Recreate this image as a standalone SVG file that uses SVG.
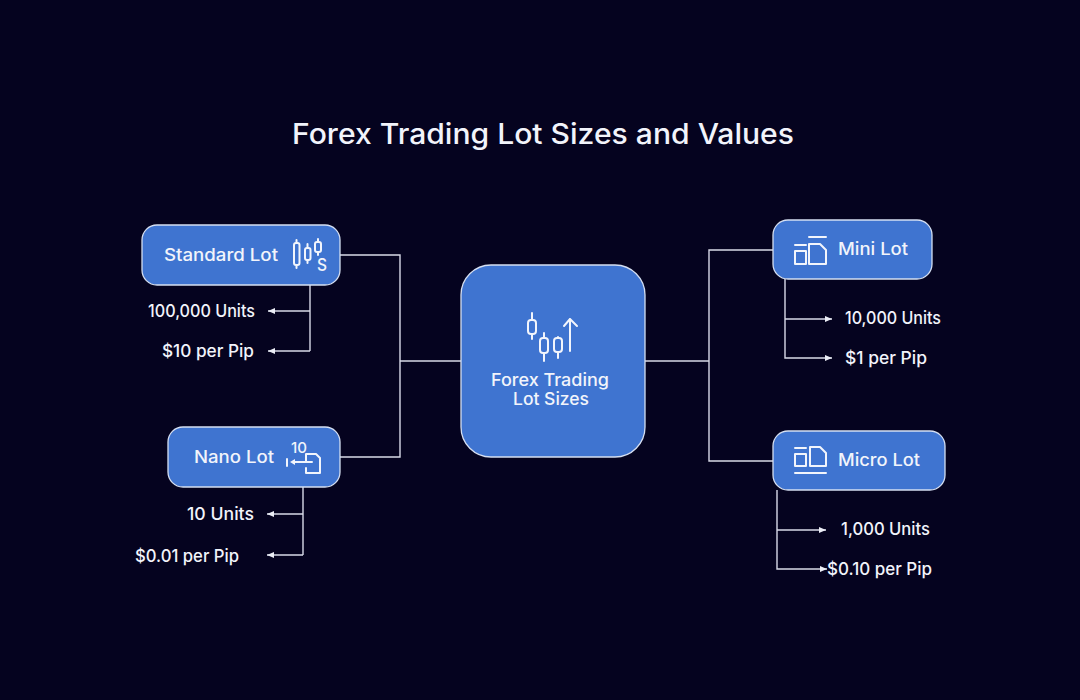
<svg xmlns="http://www.w3.org/2000/svg" width="1080" height="700" viewBox="0 0 1080 700">
<style>
text{font-family:"Inter","Lato","Liberation Sans",sans-serif;fill:#f2f4fb;font-weight:500}
.box{fill:#3f74d0;stroke:#d5dff2;stroke-width:1.3}
.lbl{font-size:17px}
.sub{font-size:17px}
.conn{fill:none;stroke:#d9dbe8;stroke-width:1.4}
.ic{fill:none;stroke:#f2f5fc;stroke-width:2;stroke-linecap:round;stroke-linejoin:round}
</style>
<defs>
<marker id="a" markerUnits="userSpaceOnUse" markerWidth="8" markerHeight="8" refX="7" refY="4" orient="auto"><path d="M0 1L7 4L0 7Z" fill="#eceef6"/></marker>
</defs>
<rect width="1080" height="700" fill="#05031f"/>
<text x="292" y="144" font-size="28" textLength="502" lengthAdjust="spacingAndGlyphs">Forex Trading Lot Sizes and Values</text>
<g id="connectors" class="conn">
<path d="M340 255H400V457H340"/>
<path d="M400 361H461"/>
<path d="M645 361H709"/>
<path d="M773 250H709V461H773"/>
<path d="M310 285V351"/>
<path d="M310 311H268" marker-end="url(#a)"/>
<path d="M310 351H268" marker-end="url(#a)"/>
<path d="M303 487V555"/>
<path d="M303 514H267" marker-end="url(#a)"/>
<path d="M303 555H267" marker-end="url(#a)"/>
<path d="M785 279V358H832" marker-end="url(#a)"/>
<path d="M785 319H832" marker-end="url(#a)"/>
<path d="M777 490V569H827" marker-end="url(#a)"/>
<path d="M777 530H826" marker-end="url(#a)"/>
</g>
<g id="center">
<rect class="box" x="461" y="265" width="184" height="192" rx="30"/>
<path class="ic" d="M532 313V320M532 334V339M544 333V338M544 353V361M558 337V338M558 352V358M570 351V319M564 326L570 319L577 326"/>
<rect class="ic" x="528" y="320" width="8" height="14" rx="3"/>
<rect class="ic" x="540" y="338" width="8" height="15" rx="3"/>
<rect class="ic" x="554" y="338" width="8" height="14" rx="3"/>
<text class="lbl" x="491" y="386" textLength="118" lengthAdjust="spacingAndGlyphs">Forex Trading</text>
<text class="lbl" x="513" y="405" textLength="76" lengthAdjust="spacingAndGlyphs">Lot Sizes</text>
</g>
<g id="standard">
<rect class="box" x="142" y="225" width="198" height="60" rx="15"/>
<text class="lbl" x="164" y="261" textLength="114" lengthAdjust="spacingAndGlyphs">Standard Lot</text>
<path class="ic" d="M296.500 240V243M296.500 265V268M307.500 244V248M307.500 260V263M318 239V242M318 252V255"/>
<rect class="ic" x="294" y="243" width="5.500" height="22" rx="2"/>
<rect class="ic" x="305" y="248" width="5.500" height="12" rx="2"/>
<rect class="ic" x="315" y="242" width="6" height="10" rx="2"/>
<text x="317" y="271" font-size="17" font-weight="700" textLength="10" lengthAdjust="spacingAndGlyphs">S</text>
<text class="sub" x="148" y="317" textLength="107" lengthAdjust="spacingAndGlyphs">100,000 Units</text>
<text class="sub" x="162" y="357" textLength="92" lengthAdjust="spacingAndGlyphs">$10 per Pip</text>
</g>
<g id="nano">
<rect class="box" x="168" y="427" width="172" height="60" rx="15"/>
<text class="lbl" x="194" y="463" textLength="80" lengthAdjust="spacingAndGlyphs">Nano Lot</text>
<text x="291" y="453" font-size="15" font-weight="700" textLength="16" lengthAdjust="spacingAndGlyphs">10</text>
<path class="ic" d="M287 459V466M295 462H312M306 462V454H316L320 458V473H306V468"/>
<path d="M290 462L295 459V465Z" fill="#f2f5fc"/>
<text class="sub" x="187" y="520" textLength="67" lengthAdjust="spacingAndGlyphs">10 Units</text>
<text class="sub" x="135" y="562" textLength="104" lengthAdjust="spacingAndGlyphs">$0.01 per Pip</text>
</g>
<g id="mini">
<rect class="box" x="773" y="220" width="159" height="59" rx="15"/>
<path class="ic" d="M795 245H806M809 237H826M795 264V251H806V264ZM809 264V244H820L826 250V264Z"/>
<text class="lbl" x="838" y="255" textLength="70" lengthAdjust="spacingAndGlyphs">Mini Lot</text>
<text class="sub" x="845" y="324" textLength="96" lengthAdjust="spacingAndGlyphs">10,000 Units</text>
<text class="sub" x="845" y="364" textLength="82" lengthAdjust="spacingAndGlyphs">$1 per Pip</text>
</g>
<g id="micro">
<rect class="box" x="773" y="431" width="172" height="59" rx="15"/>
<path class="ic" d="M795 448H806M795 466V454H806V466ZM810 466V447H820L826 453V466ZM795 473H826"/>
<text class="lbl" x="838" y="466" textLength="82" lengthAdjust="spacingAndGlyphs">Micro Lot</text>
<text class="sub" x="841" y="535" textLength="89" lengthAdjust="spacingAndGlyphs">1,000 Units</text>
<text class="sub" x="827" y="575" textLength="105" lengthAdjust="spacingAndGlyphs">$0.10 per Pip</text>
</g>
</svg>
